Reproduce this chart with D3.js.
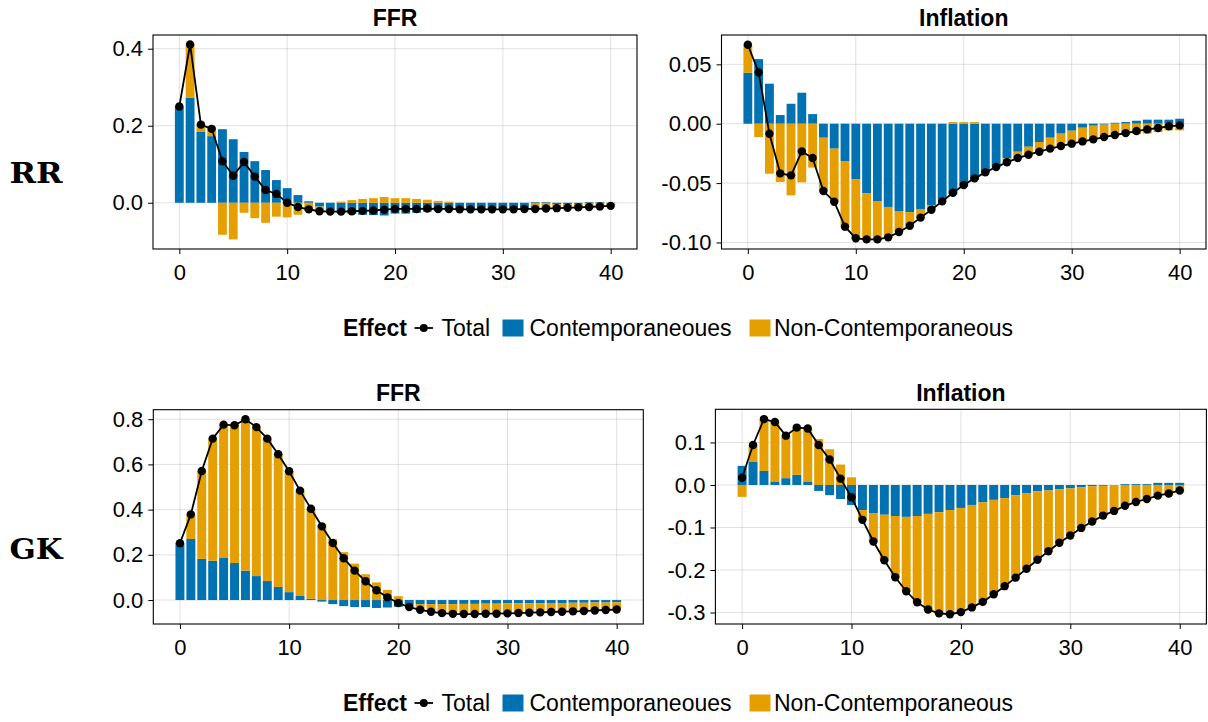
<!DOCTYPE html>
<html>
<head>
<meta charset="utf-8">
<script src="https://cdn.jsdelivr.net/npm/d3@7"></script>
<style>
  html, body { margin: 0; padding: 0; background: #fff; }
  svg { display: block; }
  text { font-family: "Liberation Sans", Arial, Helvetica, sans-serif; fill: #000; }
</style>
</head>
<body>
<svg id="chart" width="1208" height="722"></svg>
<script>
// ---------------- DATA ----------------
const horizons = d3.range(0, 41);
const xTicks = [0, 10, 20, 30, 40];
const seriesNames = ["Total", "Contemporaneoues", "Non-Contemporaneous"];
const rowLabels = ["RR", "GK"];
const panelTitles = ["FFR", "Inflation"];

// RR — FFR
const rrFfrTotal = [0.250,0.411,0.203,0.192,0.108,0.070,0.106,0.068,0.033,0.023,0.000,-0.011,-0.017,-0.022,-0.023,-0.023,-0.022,-0.021,-0.020,-0.018,-0.016,-0.016,-0.016,-0.015,-0.016,-0.016,-0.017,-0.017,-0.017,-0.017,-0.017,-0.017,-0.016,-0.016,-0.015,-0.014,-0.013,-0.012,-0.011,-0.0095,-0.008];
const rrFfrContemp = [0.250,0.273,0.184,0.173,0.191,0.165,0.132,0.108,0.085,0.059,0.038,0.020,0.004,-0.010,-0.020,-0.026,-0.029,-0.031,-0.032,-0.033,-0.028,-0.028,-0.026,-0.023,-0.021,-0.019,-0.017,-0.017,-0.016,-0.016,-0.016,-0.015,-0.013,0.002,0.002,-0.004,-0.004,-0.003,0.002,0.002,-0.002];
const rrFfrNonContemp = [0.000,0.138,0.019,0.019,-0.083,-0.095,-0.026,-0.040,-0.052,-0.036,-0.038,-0.031,-0.021,-0.012,-0.003,0.003,0.007,0.010,0.012,0.015,0.012,0.012,0.010,0.008,0.005,0.003,0.000,0.000,-0.001,-0.001,-0.001,-0.002,-0.003,-0.018,-0.017,-0.010,-0.009,-0.009,-0.013,-0.0115,-0.006];
const rrFfrYTicks = [0.0, 0.2, 0.4];
const rrFfrYLabels = ["0.0", "0.2", "0.4"];

// RR — Inflation
const rrInfTotal = [0.0665,0.0432,-0.0084,-0.0418,-0.0435,-0.0233,-0.0289,-0.0567,-0.0657,-0.0867,-0.0965,-0.0974,-0.0974,-0.0957,-0.0912,-0.0859,-0.0791,-0.0724,-0.0654,-0.0581,-0.0516,-0.0460,-0.0410,-0.0365,-0.0325,-0.0289,-0.0261,-0.0236,-0.0210,-0.0188,-0.0168,-0.0149,-0.0132,-0.0112,-0.0095,-0.0079,-0.0062,-0.0048,-0.0036,-0.0022,-0.0014];
const rrInfContemp = [0.0429,0.0544,0.0337,0.0073,0.0168,0.0261,0.0081,-0.0118,-0.0210,-0.0314,-0.0466,-0.0584,-0.0651,-0.0701,-0.0735,-0.0744,-0.0718,-0.0685,-0.0634,-0.0595,-0.0530,-0.0474,-0.0410,-0.0365,-0.0292,-0.0236,-0.0194,-0.0154,-0.0118,-0.0084,-0.0059,-0.0034,-0.0017,-0.0008,0.0008,0.0014,0.0025,0.0034,0.0034,0.0034,0.0042];
const rrInfNonContemp = [0.0236,-0.0112,-0.0421,-0.0491,-0.0603,-0.0494,-0.0370,-0.0449,-0.0447,-0.0553,-0.0499,-0.0390,-0.0323,-0.0256,-0.0177,-0.0115,-0.0073,-0.0039,-0.0020,0.0014,0.0014,0.0014,0.0000,0.0000,-0.0033,-0.0053,-0.0067,-0.0082,-0.0092,-0.0104,-0.0109,-0.0115,-0.0115,-0.0104,-0.0103,-0.0093,-0.0087,-0.0082,-0.0070,-0.0056,-0.0056];
const rrInfYTicks = [-0.10, -0.05, 0.00, 0.05];
const rrInfYLabels = ["-0.10", "-0.05", "0.00", "0.05"];

// GK — FFR
const gkFfrTotal = [0.251,0.379,0.571,0.714,0.776,0.773,0.800,0.765,0.714,0.645,0.570,0.484,0.404,0.326,0.252,0.185,0.130,0.083,0.043,0.012,-0.013,-0.031,-0.043,-0.052,-0.058,-0.061,-0.062,-0.062,-0.0605,-0.0605,-0.059,-0.0576,-0.056,-0.0546,-0.053,-0.0517,-0.050,-0.0487,-0.046,-0.044,-0.042];
const gkFfrContemp = [0.251,0.270,0.182,0.174,0.186,0.164,0.130,0.106,0.084,0.058,0.035,0.018,0.006,-0.007,-0.018,-0.027,-0.031,-0.031,-0.035,-0.033,-0.030,-0.022,-0.018,-0.018,-0.018,-0.018,-0.017,-0.017,-0.016,-0.016,-0.015,-0.015,-0.014,-0.014,-0.013,-0.013,-0.012,-0.012,-0.011,-0.011,-0.010];
const gkFfrNonContemp = [0.000,0.109,0.389,0.540,0.590,0.609,0.670,0.659,0.630,0.587,0.535,0.466,0.398,0.333,0.270,0.212,0.161,0.114,0.078,0.045,0.017,-0.009,-0.025,-0.034,-0.040,-0.043,-0.045,-0.045,-0.0445,-0.0445,-0.044,-0.0426,-0.042,-0.0406,-0.040,-0.0387,-0.038,-0.0367,-0.035,-0.033,-0.032];
const gkFfrYTicks = [0.0, 0.2, 0.4, 0.6, 0.8];
const gkFfrYLabels = ["0.0", "0.2", "0.4", "0.6", "0.8"];

// GK — Inflation
const gkInfTotal = [0.017,0.094,0.155,0.148,0.116,0.135,0.133,0.094,0.060,0.015,-0.029,-0.082,-0.133,-0.177,-0.217,-0.250,-0.276,-0.293,-0.302,-0.304,-0.299,-0.288,-0.275,-0.257,-0.238,-0.218,-0.197,-0.176,-0.156,-0.136,-0.119,-0.101,-0.086,-0.072,-0.061,-0.049,-0.040,-0.033,-0.025,-0.020,-0.013];
const gkInfContemp = [0.045,0.054,0.033,0.007,0.016,0.024,0.007,-0.014,-0.024,-0.033,-0.047,-0.059,-0.066,-0.070,-0.073,-0.075,-0.073,-0.068,-0.064,-0.059,-0.054,-0.047,-0.041,-0.035,-0.031,-0.024,-0.019,-0.015,-0.013,-0.010,-0.008,-0.005,-0.003,-0.002,0.000,0.002,0.002,0.002,0.005,0.005,0.005];
const gkInfNonContemp = [-0.028,0.040,0.122,0.141,0.100,0.111,0.126,0.108,0.084,0.048,0.018,-0.023,-0.067,-0.107,-0.144,-0.175,-0.203,-0.225,-0.238,-0.245,-0.245,-0.241,-0.234,-0.222,-0.207,-0.194,-0.178,-0.161,-0.143,-0.126,-0.111,-0.096,-0.083,-0.070,-0.061,-0.051,-0.042,-0.035,-0.030,-0.025,-0.018];
const gkInfYTicks = [-0.3, -0.2, -0.1, 0.0, 0.1];
const gkInfYLabels = ["-0.3", "-0.2", "-0.1", "0.0", "0.1"];

// ---------------- STYLE / LAYOUT ----------------
const COL_BLUE = "#0072B2";
const COL_ORANGE = "#E69F00";
const FONT_TICK = 22;
const FONT_TITLE = 23;
const X_DOMAIN = [-2.44, 42.44];

const panels = [
  { title: panelTitles[0], total: rrFfrTotal, contemp: rrFfrContemp, non: rrFfrNonContemp,
    yDomain: [-0.120, 0.4356], yTicks: rrFfrYTicks, yLabels: rrFfrYLabels,
    box: { l: 153, r: 637, t: 35, b: 249 }, titleY: 26, xLabY: 280 },
  { title: panelTitles[1], total: rrInfTotal, contemp: rrInfContemp, non: rrInfNonContemp,
    yDomain: [-0.1055, 0.0747], yTicks: rrInfYTicks, yLabels: rrInfYLabels,
    box: { l: 721.5, r: 1206, t: 35, b: 249 }, titleY: 26, xLabY: 280 },
  { title: panelTitles[0], total: gkFfrTotal, contemp: gkFfrContemp, non: gkFfrNonContemp,
    yDomain: [-0.106, 0.842], yTicks: gkFfrYTicks, yLabels: gkFfrYLabels,
    box: { l: 153.3, r: 643.3, t: 409.7, b: 624 }, titleY: 401, xLabY: 655 },
  { title: panelTitles[1], total: gkInfTotal, contemp: gkInfContemp, non: gkInfNonContemp,
    yDomain: [-0.327, 0.178], yTicks: gkInfYTicks, yLabels: gkInfYLabels,
    box: { l: 715.4, r: 1206.4, t: 409.3, b: 624 }, titleY: 401, xLabY: 655 }
];

const svg = d3.select("#chart");

panels.forEach(p => {
  const B = p.box;
  const x = d3.scaleLinear().domain(X_DOMAIN).range([B.l, B.r]);
  const y = d3.scaleLinear().domain(p.yDomain).range([B.b, B.t]);
  const g = svg.append("g");

  // grid
  g.selectAll("line.gx").data(xTicks).join("line")
    .attr("x1", d => x(d)).attr("x2", d => x(d)).attr("y1", B.t).attr("y2", B.b)
    .attr("stroke", "rgba(0,0,0,0.12)").attr("stroke-width", 1);
  g.selectAll("line.gy").data(p.yTicks).join("line")
    .attr("y1", d => y(d)).attr("y2", d => y(d)).attr("x1", B.l).attr("x2", B.r)
    .attr("stroke", "rgba(0,0,0,0.12)").attr("stroke-width", 1);

  // stacked bars
  const segs = [];
  horizons.forEach((h, i) => {
    let pos = 0, neg = 0;
    [[p.contemp[i], COL_BLUE], [p.non[i], COL_ORANGE]].forEach(([v, c]) => {
      if (v >= 0) { segs.push({ h, y0: pos, y1: pos + v, c }); pos += v; }
      else { segs.push({ h, y0: neg + v, y1: neg, c }); neg += v; }
    });
  });
  const bw = (x(0.41) - x(-0.41));
  g.selectAll("rect.bar").data(segs).join("rect")
    .attr("x", d => x(d.h) - bw / 2)
    .attr("width", bw)
    .attr("y", d => y(d.y1))
    .attr("height", d => Math.max(0, y(d.y0) - y(d.y1)))
    .attr("fill", d => d.c);

  // total line + markers
  const line = d3.line().x((d, i) => x(horizons[i])).y(d => y(d));
  g.append("path").datum(p.total).attr("d", line)
    .attr("fill", "none").attr("stroke", "#000").attr("stroke-width", 1.8);
  g.selectAll("circle.pt").data(p.total).join("circle")
    .attr("cx", (d, i) => x(horizons[i])).attr("cy", d => y(d)).attr("r", 4.2)
    .attr("fill", "#000");

  // frame
  g.append("rect").attr("x", B.l).attr("y", B.t).attr("width", B.r - B.l).attr("height", B.b - B.t)
    .attr("fill", "none").attr("stroke", "#000").attr("stroke-width", 1.1);

  // y axis
  const yAxis = d3.axisLeft(y).tickValues(p.yTicks)
    .tickFormat((d, i) => p.yLabels[i]).tickSize(5).tickPadding(5);
  const ya = g.append("g").attr("transform", `translate(${B.l},0)`).call(yAxis);
  ya.select(".domain").remove();
  ya.selectAll("text").attr("font-size", FONT_TICK).attr("font-family", "Liberation Sans, Arial, sans-serif").attr("fill", "#000");
  ya.selectAll("line").attr("stroke", "#000");

  // x axis
  const xAxis = d3.axisBottom(x).tickValues(xTicks).tickFormat(d3.format("d")).tickSize(5).tickPadding(0);
  const xa = g.append("g").attr("transform", `translate(0,${B.b})`).call(xAxis);
  xa.select(".domain").remove();
  xa.selectAll("line").attr("stroke", "#000");
  xa.selectAll("text").attr("font-size", FONT_TICK).attr("font-family", "Liberation Sans, Arial, sans-serif")
    .attr("fill", "#000").attr("dy", null).attr("y", p.xLabY - B.b);

  // title
  svg.append("text").attr("x", (B.l + B.r) / 2).attr("y", p.titleY)
    .attr("text-anchor", "middle").attr("font-size", FONT_TITLE).attr("font-weight", "bold")
    .text(p.title);
});

// row labels
const rowLabelY = [173, 549];
rowLabels.forEach((lab, i) => {
  svg.append("text").attr("x", 36).attr("y", rowLabelY[i])
    .attr("dy", "0.36em").attr("text-anchor", "middle")
    .attr("font-size", 28).attr("font-weight", "bold")
    .attr("textLength", 53).attr("lengthAdjust", "spacingAndGlyphs")
    .style("font-family", "'DejaVu Serif', 'Liberation Serif', serif")
    .text(lab);
});

// legends
function legend(cy) {
  const g = svg.append("g");
  const base = cy + 8;
  g.append("text").attr("x", 343).attr("y", base).attr("font-size", FONT_TITLE).attr("font-weight", "bold").text("Effect");
  g.append("line").attr("x1", 414.5).attr("x2", 433).attr("y1", cy).attr("y2", cy).attr("stroke", "#000").attr("stroke-width", 1.8);
  g.append("circle").attr("cx", 423.8).attr("cy", cy).attr("r", 4).attr("fill", "#000");
  g.append("text").attr("x", 441.5).attr("y", base).attr("font-size", FONT_TITLE).text(seriesNames[0]);
  g.append("rect").attr("x", 502.5).attr("y", cy - 8.5).attr("width", 21).attr("height", 17).attr("fill", COL_BLUE);
  g.append("text").attr("x", 529.5).attr("y", base).attr("font-size", FONT_TITLE).text(seriesNames[1]);
  g.append("rect").attr("x", 749.5).attr("y", cy - 8.5).attr("width", 21).attr("height", 17).attr("fill", COL_ORANGE);
  g.append("text").attr("x", 774).attr("y", base).attr("font-size", FONT_TITLE).text(seriesNames[2]);
}
legend(328);
legend(703);
</script>
</body>
</html>
